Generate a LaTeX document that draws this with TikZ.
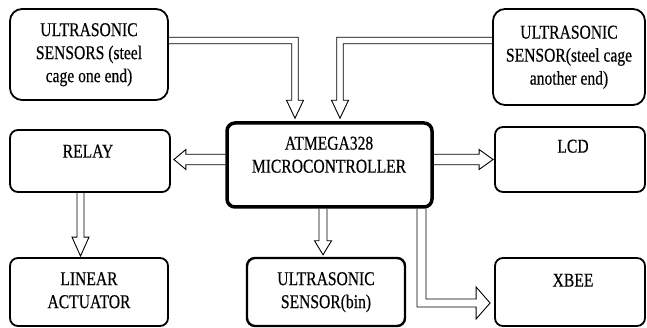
\documentclass[tikz,border=0pt]{standalone}
\usepackage{fontspec}
\setmainfont{Liberation Serif}
\newfontfamily\diagfont{Liberation Serif}[BoldFont={Liberation Serif}, BoldFeatures={FakeBold=0.5}]
\usepackage{graphicx}
\usetikzlibrary{calc,backgrounds}
\newcommand{\boxtxt}[1]{\scalebox{1}[1.25]{\begin{tabular}{@{}c@{}}#1\end{tabular}}}
% straight block arrow: #1 start point (on source border), #2 head base, #3 tip, #4 shaft half offset, #5 head half offset
\newcommand{\blkarrow}[5]{\draw[headst] ($(#1)+(#4)$) -- ($(#2)+(#4)$) -- ($(#2)+(#5)$) -- (#3) -- ($(#2)-(#5)$) -- ($(#2)-(#4)$) -- ($(#1)-(#4)$);}
\begin{document}
\begin{tikzpicture}[x=1pt,y=-1pt,
  box/.style={draw=black, line width=1.8pt, rounded corners=8pt, inner sep=0pt},
  txt/.style={font=\diagfont\bfseries\fontsize{15.6}{18.4}\selectfont, inner sep=0pt, text=black},
  headst/.style={draw=black, line width=0.9pt, fill=white, line join=miter}]
\useasboundingbox (0,0) rectangle (647,328);

% boxes
\node[box, txt, rounded corners=12pt, minimum width=158pt, minimum height=91pt] (s1) at (89,54.5)
  {\boxtxt{ULTRASONIC\\SENSORS (steel\\cage one end)}};
\node[box, txt, rounded corners=12pt, minimum width=152pt, minimum height=96pt] (s2) at (569,57)
  {\boxtxt{ULTRASONIC\\SENSOR(steel cage\\another end)}};
\node[box, minimum width=160pt, minimum height=62pt] (relay) at (90,161) {};
\node[txt] (relayt) at (88,153) {\boxtxt{RELAY}};
\node[box, txt, minimum width=158pt, minimum height=68pt] (act) at (89,292)
  {\boxtxt{LINEAR\\ACTUATOR}};
\node[box, line width=3.5pt, minimum width=205pt, minimum height=84pt] (micro) at (329.5,165) {};
\node[txt] (microt) at (329,156.5) {\boxtxt{ATMEGA328\\MICROCONTROLLER}};
\node[box, txt, line width=2.4pt, minimum width=158pt, minimum height=68pt] (bin) at (326,292)
  {\boxtxt{ULTRASONIC\\SENSOR(bin)}};
\node[box, minimum width=150pt, minimum height=65pt] (lcd) at (570,159.5) {};
\node[txt] (lcdt) at (573,148) {\boxtxt{LCD}};
\node[box, minimum width=150pt, minimum height=68pt] (xbee) at (570,292) {};
\node[txt] (xbeet) at (573,282) {\boxtxt{XBEE}};

% connector coordinates
\coordinate (t1) at ($(micro.north -| 295,0)+(0,-3)$);
\coordinate (h1) at ($(t1)+(0,-18)$);
\coordinate (b1) at (s1.east |- 0,40.5);
\coordinate (t2) at ($(micro.north -| 340,0)+(0,-3)$);
\coordinate (h2) at ($(t2)+(0,-18)$);
\coordinate (b2) at (s2.west |- 0,40.5);
\coordinate (t3) at ($(relay.east |- 0,159.5)+(3,0)$);
\coordinate (h3) at ($(t3)+(12,0)$);
\coordinate (t4) at ($(lcd.west |- 0,159.5)+(-1,0)$);
\coordinate (h4) at ($(t4)+(-14,0)$);
\coordinate (t5) at ($(act.north -| 80.5,0)+(0,-1)$);
\coordinate (h5) at ($(t5)+(0,-19)$);
\coordinate (t6) at ($(bin.north -| 323,0)+(0,-2)$);
\coordinate (h6) at ($(t6)+(0,-14)$);
\coordinate (t7) at ($(xbee.west |- 0,303)+(-4,0)$);
\coordinate (h7) at ($(t7)+(-14,0)$);
\coordinate (b7) at (micro.south -| 421.5,0);

\begin{pgfonlayer}{background}
% sensor (one end) -> microcontroller
\draw[headst] ($(b1)+(0,-3.25)$) -- ($(h1 |- b1)+(3.25,-3.25)$) -- ($(h1)+(3.25,0)$) -- ($(h1)+(8.5,0)$)
  -- (t1) -- ($(h1)+(-8.5,0)$) -- ($(h1)+(-3.25,0)$) -- ($(h1 |- b1)+(-3.25,3.25)$) -- ($(b1)+(0,3.25)$);
% sensor (another end) -> microcontroller
\draw[headst] ($(b2)+(0,-3.25)$) -- ($(h2 |- b2)+(-3.25,-3.25)$) -- ($(h2)+(-3.25,0)$) -- ($(h2)+(-8.5,0)$)
  -- (t2) -- ($(h2)+(8.5,0)$) -- ($(h2)+(3.25,0)$) -- ($(h2 |- b2)+(3.25,3.25)$) -- ($(b2)+(0,3.25)$);
\blkarrow{micro.west |- h3}{h3}{t3}{0,5.25}{0,10}
\blkarrow{micro.east |- h4}{h4}{t4}{0,5.25}{0,10}
\blkarrow{h5 |- relay.south}{h5}{t5}{3.5,0}{8.5,0}
\blkarrow{h6 |- micro.south}{h6}{t6}{4,0}{8.5,0}
% microcontroller -> XBEE
\draw[headst] ($(b7)+(-4.5,0)$) -- ($(b7 |- h7)+(-4.5,4)$) -- ($(h7)+(0,4)$) -- ($(h7)+(0,16)$)
  -- (t7) -- ($(h7)+(0,-16)$) -- ($(h7)+(0,-4)$) -- ($(b7 |- h7)+(4.5,-4)$) -- ($(b7)+(4.5,0)$);
\end{pgfonlayer}
\end{tikzpicture}
\end{document}
